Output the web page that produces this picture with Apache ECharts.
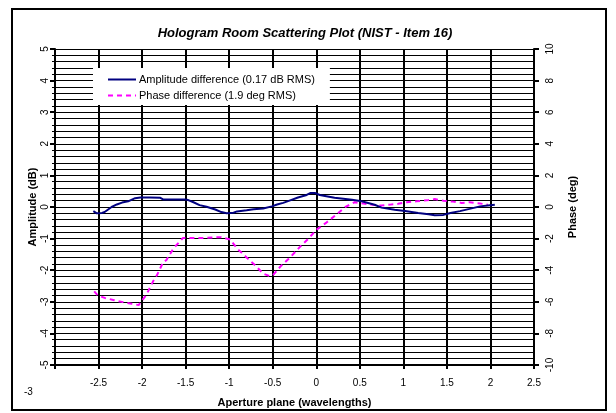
<!DOCTYPE html>
<html>
<head>
<meta charset="utf-8">
<script src="https://cdn.jsdelivr.net/npm/echarts@6/dist/echarts.min.js"></script>
<style>
  html, body { margin: 0; padding: 0; background: #fff; }
  #chart { width: 616px; height: 413px; }
</style>
</head>
<body>
<div id="chart"></div>
<script>
const titleText = 'Hologram Room Scattering Plot (NIST - Item 16)';
const ampName = 'Amplitude difference (0.17 dB RMS)';
const phaseName = 'Phase difference (1.9 deg RMS)';

// amplitude (dB), left axis
const ampX = [-2.56, -2.52, -2.46, -2.43, -2.35, -2.29, -2.23, -2.16, -2.08, -2.02, -1.91, -1.79, -1.76, -1.51, -1.47, -1.41, -1.34, -1.26, -1.16, -1.09, -1.03, -0.95, -0.91, -0.80, -0.72, -0.61, -0.51, -0.45, -0.38, -0.30, -0.21, -0.11, -0.07, -0.01, 0.04, 0.10, 0.21, 0.41, 0.52, 0.67, 0.75, 0.90, 1.02, 1.17, 1.29, 1.36, 1.46, 1.54, 1.65, 1.76, 1.88, 1.97, 2.05];
const ampY = [-0.13, -0.20, -0.19, -0.16, 0.0, 0.08, 0.14, 0.18, 0.28, 0.30, 0.30, 0.29, 0.24, 0.24, 0.22, 0.15, 0.06, 0.01, -0.08, -0.16, -0.20, -0.18, -0.14, -0.10, -0.07, -0.05, 0.02, 0.08, 0.13, 0.21, 0.30, 0.38, 0.44, 0.44, 0.38, 0.35, 0.29, 0.23, 0.18, 0.07, -0.02, -0.09, -0.13, -0.19, -0.23, -0.26, -0.25, -0.19, -0.13, -0.06, 0.02, 0.05, 0.07];

// phase (deg), right axis
const phaseX = [-2.55, -2.51, -2.43, -2.32, -2.22, -2.12, -2.04, -2.02, -1.95, -1.87, -1.83, -1.76, -1.72, -1.64, -1.53, -1.41, -1.30, -1.18, -1.09, -0.99, -0.90, -0.80, -0.70, -0.61, -0.53, -0.49, -0.40, -0.30, -0.19, -0.09, 0.0, 0.12, 0.23, 0.33, 0.44, 0.56, 0.65, 0.75, 0.85, 0.94, 1.04, 1.15, 1.27, 1.36, 1.46, 1.57, 1.67, 1.76, 1.88, 1.97];
const phaseY = [-5.34, -5.59, -5.75, -5.90, -6.02, -6.12, -6.21, -6.06, -5.55, -4.67, -4.32, -3.52, -3.35, -2.62, -1.96, -1.96, -1.96, -1.92, -1.92, -2.06, -2.68, -3.19, -3.70, -4.22, -4.38, -4.26, -3.70, -3.19, -2.54, -2.0, -1.45, -0.97, -0.48, -0.01, 0.30, 0.20, 0.14, 0.09, 0.15, 0.20, 0.30, 0.36, 0.42, 0.50, 0.40, 0.34, 0.26, 0.30, 0.22, 0.15];

const font = "'Liberation Sans', Arial, sans-serif";
const zip = (xs, ys) => xs.map((x, i) => [x, ys[i]]);

const chart = echarts.init(document.getElementById('chart'), null, { renderer: 'canvas' });

const option = {
    backgroundColor: '#fff',
    animation: false,
    textStyle: { fontFamily: font, color: '#000' },
    title: {
        text: titleText,
        left: 300,
        top: 22,
        textAlign: 'center',
        textStyle: { fontFamily: font, fontSize: 13, fontWeight: 'bold', fontStyle: 'italic', color: '#000' },
    },
    legend: {
        orient: 'vertical',
        left: 93,
        top: 68,
        padding: [6, 15, 4, 14],
        itemGap: 5,
        itemWidth: 28,
        itemHeight: 10,
        backgroundColor: '#fff',
        itemStyle: { opacity: 0 },
        textStyle: { fontFamily: font, fontSize: 11, color: '#000', padding: [0, 0, 0, -2] },
        data: [ampName, phaseName],
    },
    graphic: [
        {
            type: 'rect',
            shape: { x: 12, y: 9, width: 594, height: 401 },
            style: { fill: 'none', stroke: '#000', lineWidth: 2 },
            silent: true,
        },
        {
            type: 'text',
            left: 24,
            top: 387,
            style: { text: '-3', font: '10px ' + font, fill: '#000' },
        },
    ],
    grid: { left: 55, right: 82, top: 49, bottom: 39 },
    xAxis: {
        type: 'value',
        min: -3,
        max: 2.5,
        interval: 0.5,
        name: 'Aperture plane (wavelengths)',
        nameLocation: 'middle',
        nameGap: 32,
        nameMoveOverlap: false,
        nameTextStyle: { fontFamily: font, fontSize: 11, fontWeight: 'bold', color: '#000' },
        axisLine: { onZero: false, lineStyle: { color: '#000', width: 2 } },
        axisTick: { length: 4, lineStyle: { color: '#000', width: 2 } },
        axisLabel: {
            margin: 13,
            fontSize: 10,
            color: '#000',
            formatter: (v) => (v === -3 ? '' : String(v)),
        },
        splitLine: { show: true, lineStyle: { color: '#000', width: 2 } },
    },
    yAxis: [
        {
            type: 'value',
            min: -5,
            max: 5,
            interval: 1,
            name: 'Amplitude (dB)',
            nameLocation: 'middle',
            nameRotate: 90,
            nameGap: 17,
            nameMoveOverlap: false,
            nameTextStyle: { fontFamily: font, fontSize: 11, fontWeight: 'bold', color: '#000' },
            axisLine: { show: true, onZero: false, lineStyle: { color: '#000', width: 2 } },
            axisTick: { show: true, length: 5, lineStyle: { color: '#000', width: 2 } },
            minorTick: { show: true, splitNumber: 5, length: 3, lineStyle: { color: '#000', width: 1 } },
            axisLabel: { rotate: 90, margin: 5, fontSize: 10, color: '#000' },
            splitLine: { show: true, lineStyle: { color: '#000', width: 1 } },
            minorSplitLine: { show: true, lineStyle: { color: '#000', width: 1 } },
        },
        {
            type: 'value',
            min: -10,
            max: 10,
            interval: 2,
            position: 'right',
            name: 'Phase (deg)',
            nameLocation: 'middle',
            nameRotate: 90,
            nameGap: 33,
            nameMoveOverlap: false,
            nameTextStyle: { fontFamily: font, fontSize: 11, fontWeight: 'bold', color: '#000' },
            axisLine: { show: true, onZero: false, lineStyle: { color: '#000', width: 2 } },
            axisTick: { show: true, length: 5, lineStyle: { color: '#000', width: 2 } },
            axisLabel: { rotate: 90, margin: 11, fontSize: 10, color: '#000' },
            splitLine: { show: false },
        },
    ],
    series: [
        {
            name: ampName,
            type: 'line',
            yAxisIndex: 0,
            data: zip(ampX, ampY),
            symbol: 'none',
            z: 3,
            lineStyle: { color: '#000080', width: 2 },
            itemStyle: { color: '#000080' },
        },
        {
            name: phaseName,
            type: 'line',
            yAxisIndex: 1,
            data: zip(phaseX, phaseY),
            symbol: 'none',
            z: 2,
            lineStyle: { color: '#ff00ff', width: 2, type: [5, 4] },
            itemStyle: { color: '#ff00ff' },
        },
    ],
};

chart.setOption(option);
</script>
</body>
</html>
